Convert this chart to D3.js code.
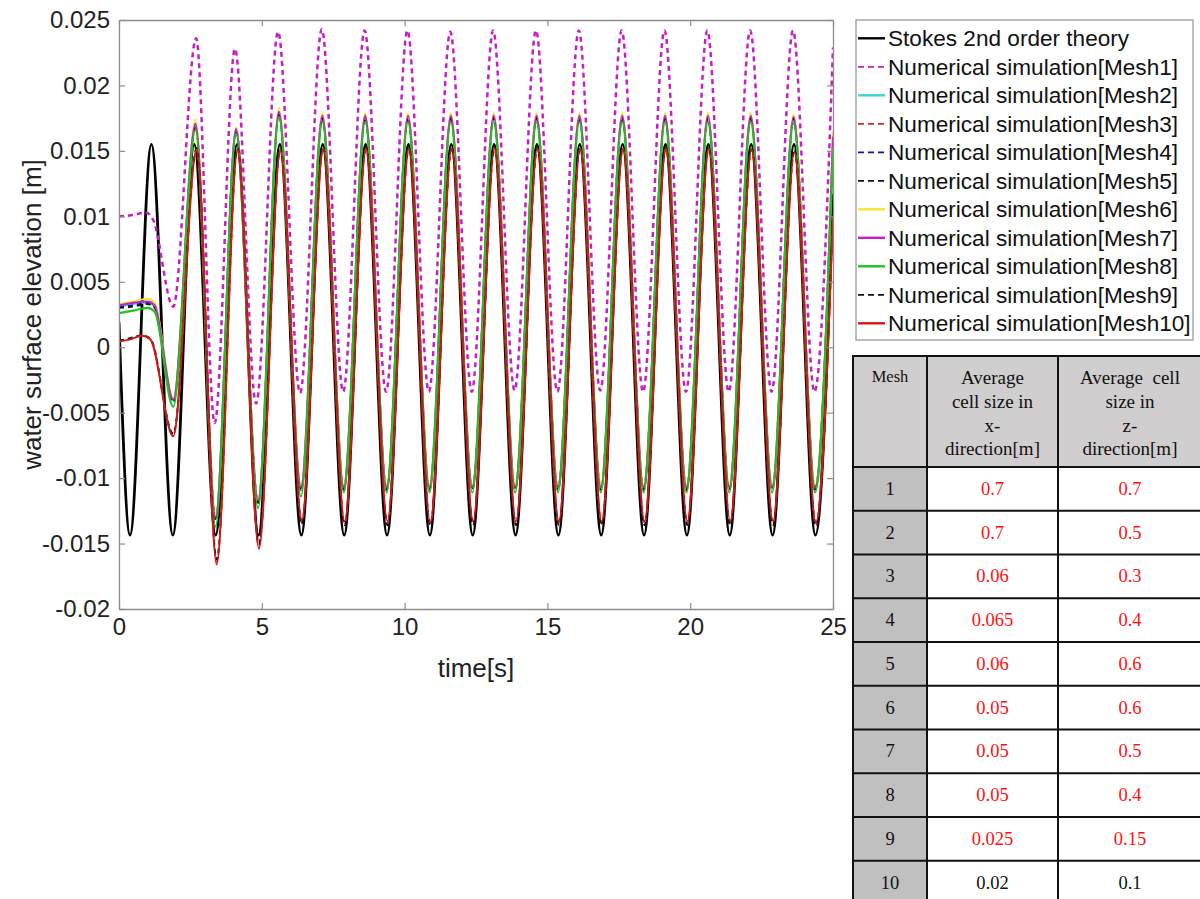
<!DOCTYPE html>
<html>
<head>
<meta charset="utf-8">
<script src="https://cdn.jsdelivr.net/npm/d3@7"></script>
<style>
  body { margin: 0; background: #fff; }
  svg { display: block; }
  .tick text { font-family: "Liberation Sans", Arial, sans-serif; }
</style>
</head>
<body>
<div id="graph"></div>
<script>
'use strict';

// ---- data (extrema + start/end of each record) ----
const yTicks = [-0.02, -0.015, -0.01, -0.005, 0, 0.005, 0.01, 0.015, 0.02, 0.025];
const yTickLabels = ["-0.02", "-0.015", "-0.01", "-0.005", "0", "0.005", "0.01", "0.015", "0.02", "0.025"];
const xTicks = [0, 5, 10, 15, 20, 25];

// Stokes 2nd order theory
const timeStokes = [0, 0.385, 1.135, 1.885, 2.635, 3.385, 4.135, 4.885, 5.635, 6.385, 7.135, 7.885,
  8.635, 9.385, 10.135, 10.885, 11.635, 12.385, 13.135, 13.885, 14.635, 15.385, 16.135, 16.885,
  17.635, 18.385, 19.135, 19.885, 20.635, 21.385, 22.135, 22.885, 23.635, 24.385, 25];
const stokesValues = [0.0019, -0.01435, 0.0155, -0.01435, 0.0155, -0.01435, 0.0155, -0.01435, 0.0155,
  -0.01435, 0.0155, -0.01435, 0.0155, -0.01435, 0.0155, -0.01435, 0.0155, -0.01435, 0.0155, -0.01435,
  0.0155, -0.01435, 0.0155, -0.01435, 0.0155, -0.01435, 0.0155, -0.01435, 0.0155, -0.01435, 0.0155,
  -0.01435, 0.0155, -0.01435, 0.0117];

// Mesh1 (coarse, offset upward)
const timeMesh1 = [0, 0.5, 0.95, 1.2, 1.9, 2.7, 3.35, 4.06, 4.8, 5.57, 6.34, 7.1, 7.85, 8.6, 9.35,
  10.1, 10.85, 11.6, 12.35, 13.1, 13.85, 14.6, 15.35, 16.1, 16.85, 17.6, 18.35, 19.1, 19.85, 20.6,
  21.35, 22.1, 22.85, 23.6, 24.35, 25];
const mesh1Values = [0.0100, 0.0101, 0.0103, 0.0097, 0.0031, 0.0236, -0.0058, 0.0228, -0.0043, 0.0241,
  -0.0035, 0.0243, -0.0034, 0.0242, -0.0034, 0.0242, -0.0034, 0.0241, -0.0034, 0.0242, -0.0033, 0.0242,
  -0.0034, 0.0242, -0.0033, 0.0242, -0.0034, 0.0242, -0.0034, 0.0242, -0.0034, 0.0242, -0.0034, 0.0242,
  -0.0034, 0.0229];

// Meshes 2, 4, 5, 6, 7, 8 share nearly the same timing
const timeMeshA = [0, 0.5, 1.0, 1.25, 1.9, 2.68, 3.38, 4.1, 4.87, 5.6, 6.37, 7.12, 7.87, 8.62, 9.37,
  10.12, 10.87, 11.62, 12.37, 13.12, 13.87, 14.62, 15.37, 16.12, 16.87, 17.62, 18.37, 19.12, 19.87,
  20.62, 21.37, 22.12, 22.87, 23.62, 24.37, 25];
const mesh2Values = [0.0031, 0.0033, 0.0034, 0.0031, -0.0041, 0.0170, -0.0131, 0.0166, -0.0118, 0.0179,
  -0.0108, 0.0176, -0.0108, 0.0176, -0.0108, 0.0176, -0.0108, 0.0176, -0.0108, 0.0176, -0.0108, 0.0176,
  -0.0108, 0.0176, -0.0108, 0.0176, -0.0108, 0.0176, -0.0108, 0.0176, -0.0108, 0.0176, -0.0108, 0.0175,
  -0.0108, 0.0160];
const mesh4Values = [0.0031, 0.0032, 0.0034, 0.0031, -0.0041, 0.0169, -0.0131, 0.0166, -0.0118, 0.0178,
  -0.0108, 0.0175, -0.0107, 0.0175, -0.0107, 0.0175, -0.0107, 0.0175, -0.0107, 0.0175, -0.0107, 0.0175,
  -0.0107, 0.0175, -0.0107, 0.0175, -0.0107, 0.0175, -0.0107, 0.0175, -0.0107, 0.0175, -0.0107, 0.0175,
  -0.0107, 0.0158];
const mesh5Values = [0.0030, 0.0031, 0.0033, 0.0030, -0.0042, 0.0169, -0.0132, 0.0165, -0.0119, 0.0178,
  -0.0109, 0.0175, -0.0109, 0.0175, -0.0109, 0.0175, -0.0109, 0.0175, -0.0109, 0.0175, -0.0109, 0.0175,
  -0.0109, 0.0175, -0.0109, 0.0175, -0.0109, 0.0175, -0.0109, 0.0175, -0.0109, 0.0175, -0.0109, 0.0174,
  -0.0109, 0.0157];
const mesh6Values = [0.0033, 0.0035, 0.0037, 0.0034, -0.0039, 0.0174, -0.0129, 0.0168, -0.0116, 0.0183,
  -0.0106, 0.0179, -0.0105, 0.0179, -0.0105, 0.0179, -0.0105, 0.0179, -0.0105, 0.0179, -0.0105, 0.0179,
  -0.0105, 0.0179, -0.0105, 0.0179, -0.0105, 0.0179, -0.0105, 0.0179, -0.0105, 0.0179, -0.0105, 0.0178,
  -0.0105, 0.0165];
const mesh7Values = [0.0032, 0.0034, 0.0035, 0.0032, -0.0040, 0.0171, -0.0130, 0.0167, -0.0117, 0.0180,
  -0.0107, 0.0177, -0.0107, 0.0177, -0.0107, 0.0177, -0.0107, 0.0177, -0.0107, 0.0177, -0.0107, 0.0177,
  -0.0107, 0.0177, -0.0107, 0.0177, -0.0107, 0.0177, -0.0107, 0.0177, -0.0107, 0.0177, -0.0107, 0.0176,
  -0.0107, 0.0161];
const mesh8Values = [0.0026, 0.0028, 0.0030, 0.0027, -0.00455, 0.0166, -0.0137, 0.0163, -0.0123, 0.0176,
  -0.0114, 0.0172, -0.0111, 0.0172, -0.0111, 0.0172, -0.0111, 0.0172, -0.0111, 0.0172, -0.0111, 0.0172,
  -0.0111, 0.0172, -0.0111, 0.0172, -0.0111, 0.0172, -0.0111, 0.0172, -0.0111, 0.0172, -0.0111, 0.0171,
  -0.0111, 0.0152];

// Meshes 3, 9, 10 (finer in z)
const timeMeshB = [0, 0.4, 0.8, 1.1, 1.9, 2.72, 3.42, 4.15, 4.9, 5.65, 6.4, 7.15, 7.9, 8.65, 9.4,
  10.15, 10.9, 11.65, 12.4, 13.15, 13.9, 14.65, 15.4, 16.15, 16.9, 17.65, 18.4, 19.15, 19.9, 20.65,
  21.4, 22.15, 22.9, 23.65, 24.4, 25];
const mesh3Values = [0.0005, 0.00065, 0.0009, 0.00062, -0.0067, 0.0150, -0.0164, 0.0150, -0.0152, 0.0150,
  -0.0134, 0.0151, -0.0135, 0.0151, -0.0135, 0.0151, -0.0135, 0.0151, -0.0135, 0.0151, -0.0135, 0.0151,
  -0.0135, 0.0151, -0.0135, 0.0151, -0.0135, 0.0151, -0.0135, 0.0151, -0.0135, 0.0151, -0.0135, 0.0149,
  -0.0136, 0.0102];
const mesh9Values = [0.0005, 0.0007, 0.0009, 0.00065, -0.0066, 0.0152, -0.0162, 0.0152, -0.0150, 0.0152,
  -0.0135, 0.0153, -0.0136, 0.0153, -0.0136, 0.0153, -0.0136, 0.0153, -0.0136, 0.0153, -0.0136, 0.0153,
  -0.0136, 0.0153, -0.0136, 0.0153, -0.0136, 0.0153, -0.0136, 0.0153, -0.0136, 0.0153, -0.0136, 0.0151,
  -0.0136, 0.0104];
const mesh10Values = [0.00045, 0.0006, 0.00088, 0.0006, -0.0068, 0.0151, -0.0166, 0.0151, -0.0154, 0.0151,
  -0.0132, 0.0152, -0.0133, 0.0152, -0.0133, 0.0152, -0.0134, 0.0152, -0.0133, 0.0152, -0.0133, 0.0152,
  -0.0133, 0.0152, -0.0133, 0.0152, -0.0133, 0.0152, -0.0133, 0.0152, -0.0133, 0.0151, -0.0133, 0.0149,
  -0.0134, 0.0100];

// table
const meshIds = ["1", "2", "3", "4", "5", "6", "7", "8", "9", "10"];
const cellSizeX = ["0.7", "0.7", "0.06", "0.065", "0.06", "0.05", "0.05", "0.05", "0.025", "0.02"];
const cellSizeZ = ["0.7", "0.5", "0.3", "0.4", "0.6", "0.6", "0.5", "0.4", "0.15", "0.1"];

// ---- series list (draw order = MATLAB plot order) ----
const series = [
  { name: "Stokes 2nd order theory", t: timeStokes, v: stokesValues, color: "#000000", width: 2.8, dash: null },
  { name: "Numerical simulation[Mesh1]", t: timeMesh1, v: mesh1Values, color: "#c41fc4", width: 2.5, dash: "5,4" },
  { name: "Numerical simulation[Mesh2]", t: timeMeshA, v: mesh2Values, color: "#3fd3d3", width: 2.0, dash: null },
  { name: "Numerical simulation[Mesh3]", t: timeMeshB, v: mesh3Values, color: "#d42a2a", width: 1.8, dash: "5,4" },
  { name: "Numerical simulation[Mesh4]", t: timeMeshA, v: mesh4Values, color: "#1010b8", width: 1.8, dash: "5,4" },
  { name: "Numerical simulation[Mesh5]", t: timeMeshA, v: mesh5Values, color: "#111111", width: 1.8, dash: "5,4" },
  { name: "Numerical simulation[Mesh6]", t: timeMeshA, v: mesh6Values, color: "#f2e830", width: 2.0, dash: null },
  { name: "Numerical simulation[Mesh7]", t: timeMeshA, v: mesh7Values, color: "#c81ec8", width: 2.0, dash: null },
  { name: "Numerical simulation[Mesh8]", t: timeMeshA, v: mesh8Values, color: "#1ec41e", width: 2.2, dash: null },
  { name: "Numerical simulation[Mesh9]", t: timeMeshB, v: mesh9Values, color: "#111111", width: 1.8, dash: "5,4" },
  { name: "Numerical simulation[Mesh10]", t: timeMeshB, v: mesh10Values, color: "#cc1a1a", width: 2.0, dash: null }
];

const font = '"Liberation Sans", Arial, sans-serif';
const serif = '"Liberation Serif", "Times New Roman", serif';

let svgContainer = d3.select('#graph')
  .append('svg')
  .attr('width', 1200)
  .attr('height', 899);

// scales
let xScale = d3.scaleLinear().domain([0, 25]).range([119, 833]);
let yScale = d3.scaleLinear().domain([-0.02, 0.025]).range([609, 20]);

// clip to the axes box
svgContainer.append('clipPath').attr('id', 'plotClip')
  .append('rect')
  .attr('x', xScale(0)).attr('y', yScale(0.025))
  .attr('width', xScale(25) - xScale(0))
  .attr('height', yScale(-0.02) - yScale(0.025));

// lines
let line = d3.line()
  .x(d => xScale(d[0]))
  .y(d => yScale(d[1]))
  .curve(d3.curveMonotoneX);

let plot = svgContainer.append('g').attr('clip-path', 'url(#plotClip)');
series.forEach(s => {
  plot.append('path')
    .datum(s.t.map((t, i) => [t, s.v[i]]))
    .attr('d', line)
    .attr('fill', 'none')
    .attr('stroke', s.color)
    .attr('stroke-width', s.width)
    .attr('stroke-dasharray', s.dash)
    .attr('stroke-linejoin', 'round');
});

// axes (ticks point inward on all four sides)
const axisColor = '#8c8c8c';
function styleAxis(g) {
  g.selectAll('.domain').attr('stroke', axisColor).attr('stroke-width', 1.3);
  g.selectAll('.tick line').attr('stroke', axisColor).attr('stroke-width', 1.2);
  g.selectAll('.tick text').attr('fill', '#222').style('font-size', '24px');
}

svgContainer.append('g')
  .attr('transform', 'translate(0,' + yScale(-0.02) + ')')
  .call(d3.axisBottom(xScale).tickValues(xTicks).tickSizeInner(-6).tickSizeOuter(0).tickPadding(9))
  .call(styleAxis);

svgContainer.append('g')
  .attr('transform', 'translate(0,' + yScale(0.025) + ')')
  .call(d3.axisTop(xScale).tickValues(xTicks).tickSizeInner(-6).tickSizeOuter(0).tickFormat(''))
  .call(styleAxis);

svgContainer.append('g')
  .attr('transform', 'translate(' + xScale(0) + ',0)')
  .call(d3.axisLeft(yScale).tickValues(yTicks).tickSizeInner(-6).tickSizeOuter(0).tickPadding(9)
    .tickFormat((d, i) => yTickLabels[i]))
  .call(styleAxis);

svgContainer.append('g')
  .attr('transform', 'translate(' + xScale(25) + ',0)')
  .call(d3.axisRight(yScale).tickValues(yTicks).tickSizeInner(-6).tickSizeOuter(0).tickFormat(''))
  .call(styleAxis);

// axis labels
svgContainer.append('text')
  .attr('x', (xScale(0) + xScale(25)) / 2)
  .attr('y', 677)
  .attr('text-anchor', 'middle')
  .style('font-family', font)
  .style('font-size', '26px')
  .attr('fill', '#222')
  .text('time[s]');

svgContainer.append('text')
  .attr('transform', 'translate(41,' + (yScale(-0.02) + yScale(0.025)) / 2 + ')rotate(-90)')
  .attr('text-anchor', 'middle')
  .style('font-family', font)
  .style('font-size', '26px')
  .attr('fill', '#222')
  .text('water surface elevation [m]');

// legend
let legend = svgContainer.append('g');
legend.append('rect')
  .attr('x', 856).attr('y', 20)
  .attr('width', 337).attr('height', 320)
  .attr('fill', '#fff')
  .attr('stroke', '#9a9a9a')
  .attr('stroke-width', 1.3);

series.forEach((s, i) => {
  let cy = 38.3 + 28.5 * i;
  legend.append('line')
    .attr('x1', 858).attr('x2', 885)
    .attr('y1', cy).attr('y2', cy)
    .attr('stroke', s.color)
    .attr('stroke-width', s.dash ? 1.8 : 2.4)
    .attr('stroke-dasharray', s.dash ? '6,4' : null);
  legend.append('text')
    .attr('x', 888)
    .attr('y', cy + 8)
    .style('font-family', font)
    .style('font-size', '22.6px')
    .attr('fill', '#111')
    .text(s.name);
});

// mesh table
const colX = [853, 927, 1058, 1203];
const headerTop = 356, headerBottom = 467, rowH = 43.75;
let table = svgContainer.append('g');

// fills
table.append('rect')
  .attr('x', colX[0]).attr('y', headerTop)
  .attr('width', colX[3] - colX[0]).attr('height', headerBottom - headerTop)
  .attr('fill', '#d0cece');
table.selectAll('.meshCell')
  .data(meshIds)
  .enter()
  .append('rect')
  .attr('x', colX[0])
  .attr('y', (d, i) => headerBottom + i * rowH)
  .attr('width', colX[1] - colX[0])
  .attr('height', rowH)
  .attr('fill', '#c0c0c0');

// header text
const headerLines = [["Mesh"], ["Average", "cell size in", "x-", "direction[m]"], ["Average  cell", "size in", "z-", "direction[m]"]];
const headerX = [890, 992.5, 1130];
headerLines.forEach((lines, c) => {
  lines.forEach((txt, k) => {
    table.append('text')
      .attr('x', headerX[c])
      .attr('y', (c === 0 ? 382 : 384) + k * 23.8)
      .attr('text-anchor', 'middle')
      .style('font-family', serif)
      .style('font-size', c === 0 ? '16.5px' : '19px')
      .style('white-space', 'pre')
      .attr('fill', '#111')
      .text(txt);
  });
});

// body text
meshIds.forEach((m, i) => {
  let cy = headerBottom + i * rowH + rowH / 2 + 6;
  let col = i === 9 ? '#111' : '#ff1010';
  table.append('text').attr('x', headerX[0]).attr('y', cy)
    .attr('text-anchor', 'middle').style('font-family', serif).style('font-size', '18.5px')
    .attr('fill', '#111').text(m);
  table.append('text').attr('x', headerX[1]).attr('y', cy)
    .attr('text-anchor', 'middle').style('font-family', serif).style('font-size', '18.5px')
    .attr('fill', col).text(cellSizeX[i]);
  table.append('text').attr('x', headerX[2]).attr('y', cy)
    .attr('text-anchor', 'middle').style('font-family', serif).style('font-size', '18.5px')
    .attr('fill', col).text(cellSizeZ[i]);
});

// grid lines
const tableBottom = headerBottom + meshIds.length * rowH;
colX.forEach(x => {
  table.append('line')
    .attr('x1', x).attr('x2', x)
    .attr('y1', headerTop).attr('y2', tableBottom)
    .attr('stroke', '#111').attr('stroke-width', 2);
});
d3.range(meshIds.length + 2).forEach(k => {
  let y = k === 0 ? headerTop : headerBottom + (k - 1) * rowH;
  table.append('line')
    .attr('x1', colX[0] - 1).attr('x2', colX[3])
    .attr('y1', y).attr('y2', y)
    .attr('stroke', '#111').attr('stroke-width', 2);
});
</script>
</body>
</html>
